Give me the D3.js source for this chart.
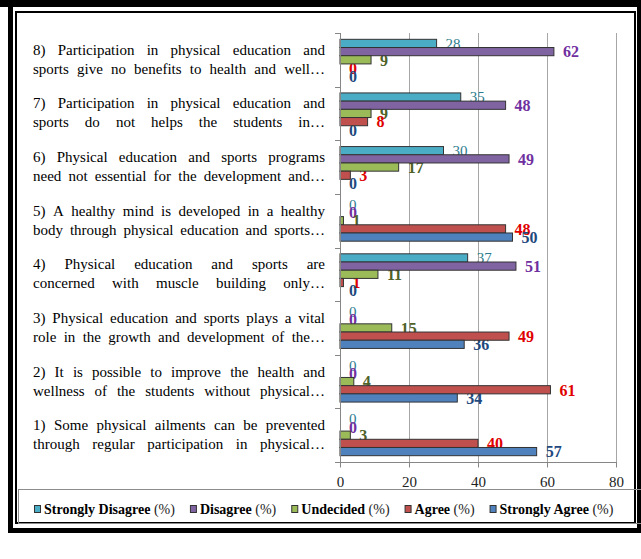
<!DOCTYPE html>
<html>
<head>
<meta charset="utf-8">
<script src="https://cdn.jsdelivr.net/npm/d3@7"></script>
<style>
  html, body { margin: 0; padding: 0; background: #fff; }
  svg { display: block; }
  svg text { font-family: "Liberation Serif", "Times New Roman", Tinos, serif; }
</style>
</head>
<body>
<svg id="chart" width="641" height="559"></svg>
<script>
// ---------------- DATA ----------------
const categories = ["1", "2", "3", "4", "5", "6", "7", "8"];
const categoryLines = [
  ["1) Some physical ailments can be prevented", "through regular participation in physical…"],
  ["2) It is possible to improve the health and", "wellness of the students without physical…"],
  ["3) Physical education and sports plays a vital", "role in the growth and development of the…"],
  ["4) Physical education and sports are", "concerned with muscle building only…"],
  ["5) A healthy mind is developed in a healthy", "body through physical education and sports…"],
  ["6) Physical education and sports programs", "need not essential for the development and…"],
  ["7) Participation in physical education and", "sports do not helps the students in…"],
  ["8) Participation in physical education and", "sports give no benefits to health and well…"]
];
const seriesNames = ["Strongly Disagree (%)", "Disagree (%)", "Undecided (%)", "Agree (%)", "Strongly Agree (%)"];
const stronglyDisagree = [0, 0, 0, 37, 0, 30, 35, 28];
const disagree         = [0, 0, 0, 51, 0, 49, 48, 62];
const undecided        = [3, 4, 15, 11, 1, 17, 9, 9];
const agree            = [40, 61, 49, 1, 48, 3, 8, 0];
const stronglyAgree    = [57, 34, 36, 0, 50, 0, 0, 0];
const xTicks = [0, 20, 40, 60, 80];

// ---------------- STYLE ----------------
const fills = ["#4BACC6", "#8064A2", "#9BBB59", "#C0504D", "#4F81BD"];
const labelColors = ["#2E7C8E", "#7030A0", "#4F6228", "#E00000", "#1F497D"];

const seriesValues = [stronglyDisagree, disagree, undecided, agree, stronglyAgree];

const svg = d3.select("#chart");

// frame
svg.append("rect").attr("x", 10.5).attr("y", 2.5).attr("width", 629).attr("height", 528)
  .attr("fill", "#fff").attr("stroke", "#000").attr("stroke-width", 5);
svg.append("rect").attr("x", 0).attr("y", 0).attr("width", 641).attr("height", 7).attr("fill", "#000");
svg.append("rect").attr("x", 16).attr("y", 12).attr("width", 619).attr("height", 511)
  .attr("fill", "#fff").attr("stroke", "#000").attr("stroke-width", 2);

// scales
const x = d3.scaleLinear().domain([0, 80]).range([340, 616]);
const y0 = d3.scaleBand().domain(categories.slice().reverse()).range([33, 462]).padding(0);
const y1 = d3.scaleBand().domain(seriesNames).range([0, y0.bandwidth()]).paddingInner(0).paddingOuter(0.77);

// gridlines
svg.append("g").selectAll("line").data(xTicks.filter(t => t > 0)).join("line")
  .attr("x1", d => x(d) + 0.5).attr("x2", d => x(d) + 0.5)
  .attr("y1", 33).attr("y2", 462)
  .attr("stroke", "#A6A6A6").attr("stroke-width", 1);

// data labels (drawn beneath bars, as in the reference)
const labelG = svg.append("g");
seriesNames.forEach((s, si) => {
  labelG.append("g").selectAll("text").data(categories).join("text")
    .attr("x", (c, i) => x(seriesValues[si][i]) + 9)
    .attr("y", (c) => y0(c) + y1(s) + y1.bandwidth() / 2)
    .attr("dy", "0.36em")
    .attr("font-size", si === 0 ? 15 : 16)
    .attr("font-weight", si === 0 ? "normal" : "bold")
    .attr("fill", labelColors[si])
    .text((c, i) => seriesValues[si][i]);
});

// bars
const barG = svg.append("g");
seriesNames.forEach((s, si) => {
  barG.append("g").selectAll("rect").data(categories).join("rect")
    .attr("x", x(0))
    .attr("y", c => y0(c) + y1(s))
    .attr("width", (c, i) => x(seriesValues[si][i]) - x(0))
    .attr("height", y1.bandwidth())
    .attr("fill", fills[si])
    .attr("stroke", "#333").attr("stroke-width", 1);
});

// y axis with ticks at band boundaries
const yAxisG = svg.append("g");
yAxisG.append("line").attr("x1", 340.5).attr("x2", 340.5).attr("y1", 33).attr("y2", 462)
  .attr("stroke", "#868686");
const boundaries = categories.map(c => y0(c)).concat([462]);
yAxisG.selectAll("line.tk").data(boundaries).join("line").attr("class", "tk")
  .attr("x1", 335).attr("x2", 340).attr("y1", d => Math.round(d) + 0.5).attr("y2", d => Math.round(d) + 0.5)
  .attr("stroke", "#868686");

// x axis
const xAxisG = svg.append("g").attr("transform", "translate(0,462.5)")
  .call(d3.axisBottom(x).tickValues(xTicks).tickSize(5).tickSizeOuter(0).tickFormat(d3.format("d")));
xAxisG.attr("font-family", null);
xAxisG.select(".domain").attr("stroke", "#868686").attr("d", "M335,0H617");
xAxisG.selectAll(".tick line").attr("stroke", "#868686");
xAxisG.selectAll(".tick text").attr("font-size", 15)
  .attr("fill", "#222").attr("y", 20).attr("dy", "0.32em");

// category labels (justified, two lines)
const textLeft = 33, textRight = 325;
const catG = svg.append("g").attr("font-size", 15).attr("fill", "#000");
categories.forEach((c, ci) => {
  const cy = y0(c) + y0.bandwidth() / 2;
  categoryLines[ci].forEach((line, li) => {
    const words = line.split(" ");
    const t = catG.append("text").attr("y", cy + (li === 0 ? -5 : 14));
    const spans = words.map(w => t.append("tspan").text(w));
    const widths = spans.map(sp => sp.node().getComputedTextLength());
    const total = d3.sum(widths);
    const gap = words.length > 1 ? (textRight - textLeft - total) / (words.length - 1) : 0;
    let cx = textLeft;
    spans.forEach((sp, k) => { sp.attr("x", cx); cx += widths[k] + gap; });
  });
});

// legend box
svg.append("rect").attr("x", 18.5).attr("y", 489.5).attr("width", 640).attr("height", 34)
  .attr("fill", "none").attr("stroke", "#8c8c8c").attr("stroke-width", 1);

const legendG = svg.append("g");
let lx = 34;
seriesNames.forEach((s, si) => {
  const item = legendG.append("g");
  item.append("rect").attr("x", lx + 0.5).attr("y", 505.5).attr("width", 6).attr("height", 7)
    .attr("fill", fills[si]).attr("stroke", "#333").attr("stroke-width", 1);
  const name = s.replace(" (%)", "");
  const txt = item.append("text").attr("x", lx + 10).attr("y", 514)
    .attr("font-size", 14).attr("fill", "#000");
  txt.append("tspan").attr("font-weight", "bold").text(name);
  txt.append("tspan").attr("font-weight", "normal").attr("fill", "#222").text(" (%)");
  lx += 10 + txt.node().getComputedTextLength() + 15;
});
</script>
</body>
</html>
